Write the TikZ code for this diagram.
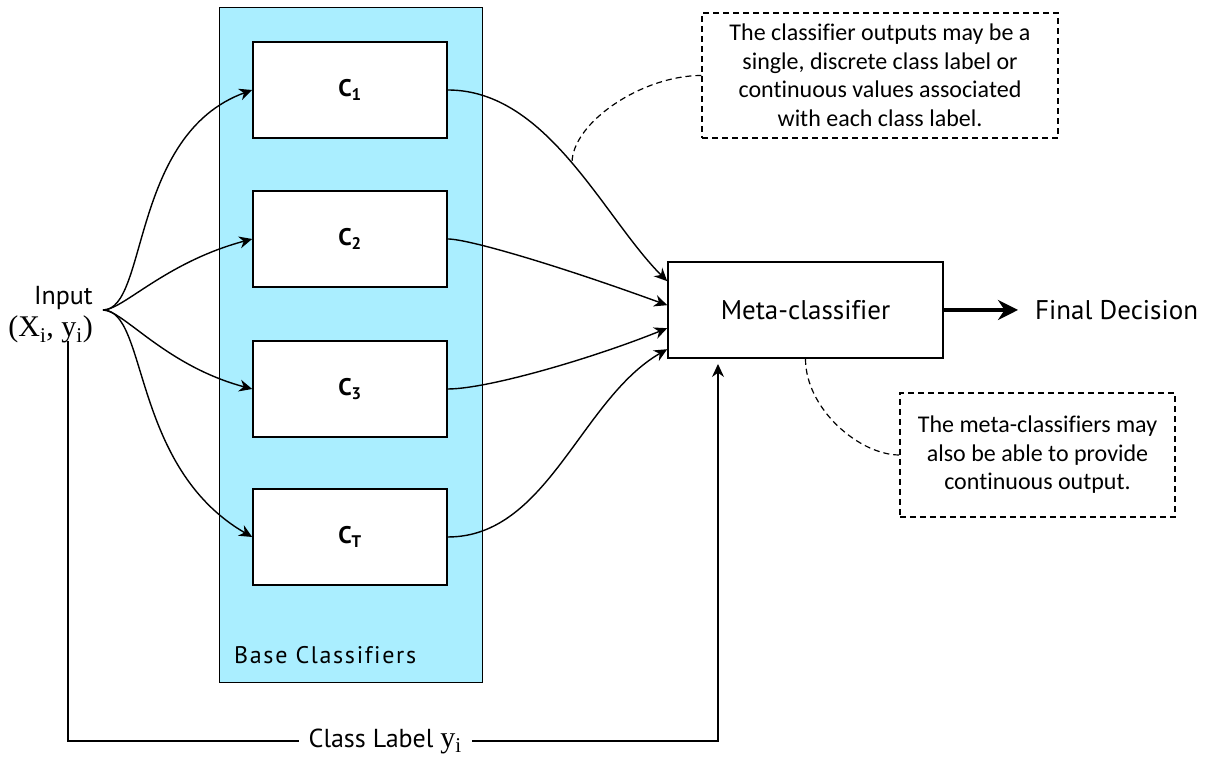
\documentclass[tikz,border=0pt]{standalone}
\usepackage{fontspec}
\setmainfont{PT Sans}[Ligatures=NoCommon]
\newfontfamily\notefont{Carlito}[Ligatures=NoCommon]
\newfontfamily\serffont{Liberation Serif}
\usetikzlibrary{arrows.meta}
\definecolor{panelblue}{HTML}{AAEEFF}
\begin{document}
\begin{tikzpicture}[x=1pt,y=1pt,
 clsbox/.style={draw, line width=1.6pt, fill=white, minimum width=194pt, minimum height=96pt, inner sep=0pt, font=\bfseries\fontsize{24}{28}\selectfont},
 notebox/.style={draw, dash pattern=on 6pt off 4pt, line width=1.2pt, align=center, inner sep=0pt, font=\notefont\fontsize{24}{28.5}\selectfont},
 noteline/.style={dash pattern=on 6pt off 4pt, line width=1.2pt},
 conn/.style={line width=1.4pt, -{Stealth[length=13pt,width=12pt]}},
 lbl/.style={font=\fontsize{27}{30}\selectfont}
]
\useasboundingbox (0,0) rectangle (1211,762);
% panel
\node[draw, line width=1.4pt, fill=panelblue, minimum width=263pt, minimum height=675pt, inner sep=0pt, anchor=north west] (panel) at (219,755) {};
\node[anchor=west, inner sep=0pt, font=\fontsize{24}{28}\selectfont\addfontfeature{LetterSpace=7}] (basel) at (234,107) {Base Classifiers};
% classifier boxes
\node[clsbox] (c1) at (350,672) {C\textsubscript{1}};
\node[clsbox] (c2) at (350,523) {C\textsubscript{2}};
\node[clsbox] (c3) at (350,373) {C\textsubscript{3}};
\node[clsbox] (ct) at (350,225) {C\textsubscript{T}};
% input
\node[align=right, anchor=east, inner xsep=10pt, inner ysep=2pt, font=\fontsize{26}{32}\selectfont] (input) at (103,447) {Input\\{\serffont\fontsize{30}{32}\selectfont (X\textsubscript{i}, y\textsubscript{i})}};
\coordinate (fork) at ([yshift=5pt]input.east);
% meta
\node[draw, line width=1.6pt, minimum width=275pt, minimum height=96pt, lbl] (meta) at (805.5,452) {Meta-classifier};
\node[lbl, anchor=west, inner sep=3pt] (final) at (1032,452) {Final Decision};
\coordinate (fdtip) at (1018,452);
\draw[line width=4pt, -{Stealth[length=20pt,width=20pt]}] (meta.east) -- (fdtip);
% notes
\node[notebox, minimum width=356pt, minimum height=125pt] (note1) at (880,686.5) {The classifier outputs may be a\\single, discrete class label or\\continuous values associated\\with each class label.};
\node[notebox, minimum width=275pt, minimum height=124pt] (note2) at (1037.5,307) {The meta-classifiers may\\also be able to provide\\continuous output.};
\coordinate (n1end) at (572,599);
\draw[noteline] (note1.west) to[out=180,in=90,out distance=60pt,in distance=40pt] (n1end);
\draw[noteline] (meta.south) to[out=-90,in=180,out distance=50pt,in distance=40pt] (note2.west);
% input fan
\draw[conn] (fork) to[out=0,in=200,out distance=45pt,in distance=130pt] (c1.west);
\draw[conn] (fork) to[out=0,in=195,out distance=20pt,in distance=90pt] (c2.west);
\draw[conn] (fork) to[out=0,in=165,out distance=20pt,in distance=90pt] (c3.west);
\draw[conn] (fork) to[out=0,in=150,out distance=45pt,in distance=140pt] (ct.west);
% to meta
\draw[conn] (c1.east) to[out=0,in=135,out distance=100pt,in distance=90pt] ([yshift=-20pt]meta.north west);
\draw[conn] (c2.east) to[out=0,in=160,out distance=20pt,in distance=120pt] ([yshift=-44pt]meta.north west);
\draw[conn] (c3.east) to[out=0,in=202,out distance=40pt,in distance=80pt] ([yshift=-67pt]meta.north west);
\draw[conn] (ct.east) to[out=0,in=210,out distance=100pt,in distance=100pt] ([yshift=-88pt]meta.north west);
% class label line
\coordinate (ystart) at (68,421);
\coordinate (ycorner1) at (68,21);
\coordinate (ycorner2) at (718,21);
\coordinate (ytip) at (718,398);
\draw[conn, line width=1.2pt] (ystart) -- (ycorner1) -- node[pos=0.488, fill=white, inner xsep=10pt, inner ysep=2pt, font=\fontsize{26}{30}\selectfont] (clabel) {Class Label {\serffont\fontsize{30}{30}\selectfont y\textsubscript{i}}} (ycorner2) -- (ytip);
\end{tikzpicture}
\end{document}
